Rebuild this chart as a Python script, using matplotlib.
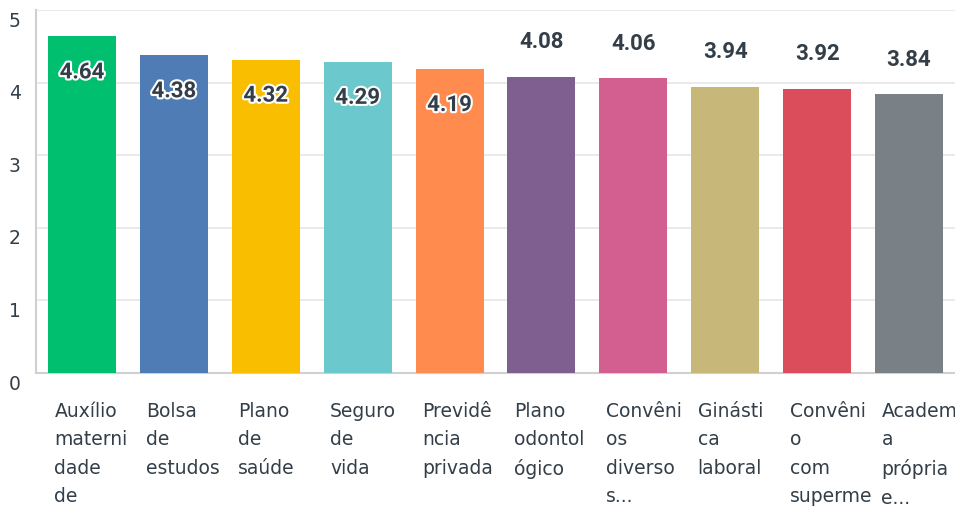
import matplotlib
matplotlib.use("Agg")
import matplotlib.pyplot as plt
import matplotlib.transforms as mtransforms
import matplotlib.patheffects as pe

categories = ["Auxílio\nmaterni\ndade\nde", "Bolsa\nde\nestudos", "Plano\nde\nsaúde",
              "Seguro\nde\nvida", "Previdê\nncia\nprivada", "Plano\nodontol\nógico",
              "Convêni\nos\ndiverso\ns...", "Ginásti\nca\nlaboral",
              "Convêni\no\ncom\nsuperme", "Academ\na\nprópria\ne..."]
values = [4.64, 4.38, 4.32, 4.29, 4.19, 4.08, 4.06, 3.94, 3.92, 3.84]
colors = ["#00bf6f", "#507cb6", "#f9be00", "#6bc8cd", "#ff8b4f",
          "#7f5f90", "#d25f90", "#c7b879", "#dc4d5c", "#798086"]
yticks = [0, 1, 2, 3, 4, 5]

plt.rcParams['font.family'] = ['DejaVu Sans']
fig = plt.figure(figsize=(9.55, 5.11), dpi=100)
ax = fig.add_axes([0.0377, 0.270, 0.9623, 0.710])

x = list(range(len(values)))
ax.bar(x, values, width=0.74, color=colors, zorder=3)
ax.set_xlim(-0.5, len(values) - 0.5)
ax.set_ylim(0, 5)
ax.set_yticks(yticks)
ax.set_yticklabels([str(t) for t in yticks], fontsize=13.5, color="#333e48")
ax.tick_params(axis='y', length=0, pad=11)
off = mtransforms.ScaledTranslation(0, -9 / 100, fig.dpi_scale_trans)
for lbl in ax.get_yticklabels():
    lbl.set_transform(lbl.get_transform() + off)
ax.set_xticks([])
ax.grid(axis='y', color="#e6e6e6", linewidth=1.2, zorder=0)
for s in ['top', 'right']:
    ax.spines[s].set_visible(False)
ax.spines['left'].set_color("#d0d0d0")
ax.spines['left'].set_linewidth(1.5)
ax.spines['bottom'].set_color("#d0d0d0")
ax.spines['bottom'].set_linewidth(1.5)

for i, v in enumerate(values):
    if i < 5:
        ax.annotate(f"{v:.2f}", (i, v), xytext=(0, -26), textcoords='offset points',
                    ha='center', va='center', fontsize=16, fontweight='bold',
                    family='Roboto', color="#333e48", zorder=5,
                    path_effects=[pe.withStroke(linewidth=3, foreground='white')])
    else:
        ax.annotate(f"{v:.2f}", (i, v), xytext=(0, 25), textcoords='offset points',
                    ha='center', va='center', fontsize=16, fontweight='bold',
                    family='Roboto', color="#333e48", zorder=5)

trans = mtransforms.blended_transform_factory(ax.transData, ax.transAxes)
for i, lab in enumerate(categories):
    ax.text(i - 0.30, -0.08, lab, transform=trans, ha='left', va='top',
            fontsize=13.5, color="#333e48", linespacing=1.62)

fig.savefig("out.png", dpi=100)
